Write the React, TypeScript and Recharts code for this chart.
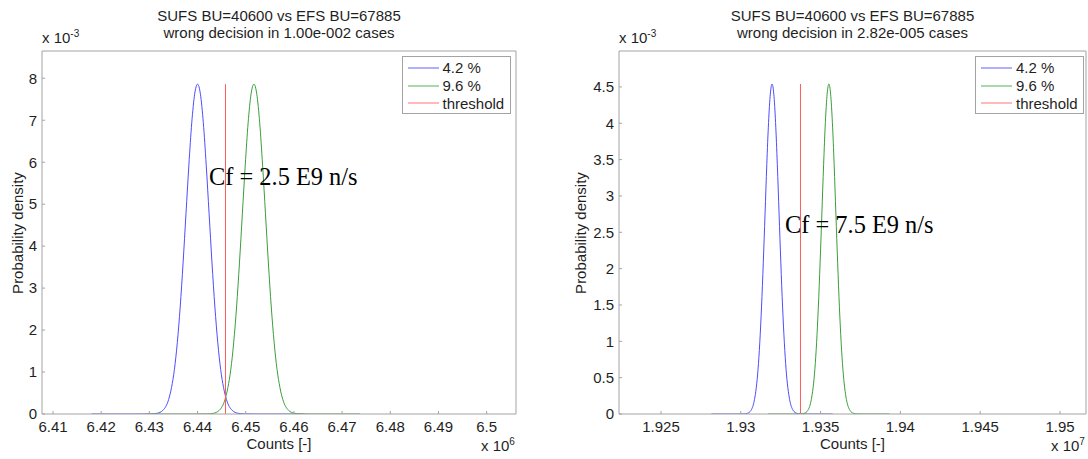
import React from 'react';
import { LineChart, Line, XAxis, YAxis, Legend } from 'recharts';

// ---------- Left panel (Cf = 2.5 E9 n/s), counts in units of 1e6 ----------
const leftBlueCounts = [
  6.418, 6.428, 6.4304, 6.4316, 6.4328, 6.434, 6.4346, 6.4352, 6.4358, 6.4364, 6.437, 6.4376, 6.4382, 6.4388, 6.4394,
  6.44, 6.4406, 6.4412, 6.4418, 6.4424, 6.443, 6.4436, 6.4442, 6.4448, 6.4454, 6.446, 6.4472, 6.4484, 6.4496, 6.452, 6.462,
];
const leftGreenCounts = [
  6.4297, 6.4397, 6.4421, 6.4433, 6.4445, 6.4457, 6.4463, 6.4469, 6.4475, 6.4481, 6.4487, 6.4493, 6.4499, 6.4505, 6.4511,
  6.4517, 6.4523, 6.4529, 6.4535, 6.4541, 6.4547, 6.4553, 6.4559, 6.4565, 6.4571, 6.4577, 6.4589, 6.4601, 6.4613, 6.4637, 6.4737,
];
const leftDensity = [
  0, 0, 0.003, 0.017, 0.087, 0.345, 0.63, 1.06, 1.7, 2.55, 3.6, 4.77, 5.93, 6.94, 7.62,
  7.86, 7.62, 6.94, 5.93, 4.77, 3.6, 2.55, 1.7, 1.06, 0.63, 0.345, 0.087, 0.017, 0.003, 0, 0,
];
const leftThresholdCounts = [6.4458, 6.4458];
const leftThresholdDensity = [0, 7.86];
const leftXTicks = [6.41, 6.42, 6.43, 6.44, 6.45, 6.46, 6.47, 6.48, 6.49, 6.5];
const leftYTicks = [0, 1, 2, 3, 4, 5, 6, 7, 8];

// ---------- Right panel (Cf = 7.5 E9 n/s), counts in units of 1e7 ----------
const rightBlueCounts = [
  1.92816, 1.92976, 1.9302, 1.93042, 1.93064, 1.93086, 1.93097, 1.93108, 1.93119, 1.9313, 1.93141, 1.93152, 1.93163, 1.93174, 1.93185,
  1.93196, 1.93207, 1.93218, 1.93229, 1.9324, 1.93251, 1.93262, 1.93273, 1.93284, 1.93295, 1.93306, 1.93328, 1.9335, 1.93372, 1.93416, 1.93576,
];
const rightGreenCounts = [
  1.93172, 1.93332, 1.93376, 1.93398, 1.9342, 1.93442, 1.93453, 1.93464, 1.93475, 1.93486, 1.93497, 1.93508, 1.93519, 1.9353, 1.93541,
  1.93552, 1.93563, 1.93574, 1.93585, 1.93596, 1.93607, 1.93618, 1.93629, 1.9364, 1.93651, 1.93662, 1.93684, 1.93706, 1.93728, 1.93772, 1.93932,
];
const rightDensity = [
  0, 0, 0.0015, 0.01, 0.05, 0.2, 0.36, 0.61, 0.98, 1.47, 2.08, 2.75, 3.43, 4.01, 4.4,
  4.54, 4.4, 4.01, 3.43, 2.75, 2.08, 1.47, 0.98, 0.61, 0.36, 0.2, 0.05, 0.01, 0.0015, 0, 0,
];
const rightThresholdCounts = [1.93374, 1.93374];
const rightThresholdDensity = [0, 4.54];
const rightXTicks = [1.925, 1.93, 1.935, 1.94, 1.945, 1.95];
const rightYTicks = [0, 0.5, 1, 1.5, 2, 2.5, 3, 3.5, 4, 4.5];

const legendLabels = ['4.2 %', '9.6 %', 'threshold'];
const seriesColors = ['#4d4dff', '#3a9e3a', '#ff5a5a'];
const legendSwatchColors = ['#7a7aff', '#70c070', '#ff8a8a'];

const FONT = '"Liberation Sans", Arial, Helvetica, sans-serif';
const SERIF = '"Liberation Serif", "Times New Roman", serif';
const TEXT = '#1f1f1f';
const AXIS = '#a3a3a3';

type Pt = { x: number; y: number };
const zip = (xs: number[], ys: number[]): Pt[] => xs.map((x, i) => ({ x, y: ys[i] }));

type PanelProps = {
  offsetX: number;
  yAxisWidth: number;
  marginRight: number;
  xDomain: [number, number];
  xTicks: number[];
  yDomain: [number, number];
  yTicks: number[];
  blue: Pt[];
  green: Pt[];
  threshold: Pt[];
  title2: string;
  annotation: string;
  annLeft: number;
  annTop: number;
  annSize: number;
  xExp: string;
  yLabelX: number;
  legendLeft: number;
};

const W = 544;
const H = 459;
const TOP = 50;
const XAXIS_H = 45;

function Panel(p: PanelProps) {
  const plotLeft = p.yAxisWidth;
  const plotRight = W - p.marginRight - 1;
  const plotW = plotRight - plotLeft;
  const plotTop = TOP + 1;
  const plotBottom = H - XAXIS_H;
  const cy = (plotTop + plotBottom) / 2;

  const renderLegend = () => (
    <div
      style={{
        boxSizing: 'border-box',
        width: 109,
        height: 58,
        border: `1px solid ${AXIS}`,
        background: '#fff',
        paddingTop: 2,
        fontFamily: FONT,
        fontSize: 15,
        color: TEXT,
      }}
    >
      {legendLabels.map((label, i) => (
        <div key={i} style={{ display: 'flex', alignItems: 'center', height: 17.7 }}>
          <svg width={36} height={4} style={{ display: 'block', flex: '0 0 36px' }}>
            <line x1={5} y1={2} x2={36} y2={2} stroke={legendSwatchColors[i]} strokeWidth={1.2} />
          </svg>
          <span style={{ marginLeft: 4, lineHeight: '17px' }}>{label}</span>
        </div>
      ))}
    </div>
  );

  return (
    <div style={{ position: 'absolute', left: p.offsetX, top: 0, width: W, height: H }}>
      <LineChart width={W} height={H} margin={{ top: TOP, right: p.marginRight, bottom: 0, left: 0 }}>
        <XAxis
          xAxisId="b"
          dataKey="x"
          type="number"
          domain={p.xDomain}
          ticks={p.xTicks}
          allowDataOverflow
          interval={0}
          height={XAXIS_H}
          tickSize={-3}
          tickMargin={10}
          stroke={AXIS}
          tick={{ fill: TEXT, fontSize: 15, fontFamily: FONT }}
          tickFormatter={(v: number) => String(v)}
        />
        <XAxis
          xAxisId="t"
          orientation="top"
          dataKey="x"
          type="number"
          domain={p.xDomain}
          ticks={p.xTicks}
          allowDataOverflow
          interval={0}
          height={1}
          tickSize={-3}
          tick={false}
          stroke={AXIS}
        />
        <YAxis
          yAxisId="l"
          type="number"
          domain={p.yDomain}
          ticks={p.yTicks}
          allowDataOverflow
          interval={0}
          width={p.yAxisWidth}
          tickSize={-3}
          tickMargin={8}
          stroke={AXIS}
          tick={{ fill: TEXT, fontSize: 15, fontFamily: FONT }}
          tickFormatter={(v: number) => String(v)}
        />
        <YAxis
          yAxisId="r"
          orientation="right"
          type="number"
          domain={p.yDomain}
          ticks={p.yTicks}
          allowDataOverflow
          interval={0}
          width={1}
          tickSize={-3}
          tick={false}
          stroke={AXIS}
        />
        <Legend
          layout="vertical"
          align="center"
          verticalAlign="middle"
          wrapperStyle={{ left: p.legendLeft, top: 56, width: 109, height: 58 }}
          content={renderLegend}
        />
        <Line
          xAxisId="b"
          yAxisId="l"
          data={p.blue}
          dataKey="y"
          name={legendLabels[0]}
          type="monotone"
          stroke={seriesColors[0]}
          strokeWidth={1}
          dot={false}
          activeDot={false}
          isAnimationActive={false}
        />
        <Line
          xAxisId="b"
          yAxisId="l"
          data={p.green}
          dataKey="y"
          name={legendLabels[1]}
          type="monotone"
          stroke={seriesColors[1]}
          strokeWidth={1}
          dot={false}
          activeDot={false}
          isAnimationActive={false}
        />
        <Line
          xAxisId="b"
          yAxisId="l"
          data={p.threshold}
          dataKey="y"
          name={legendLabels[2]}
          type="linear"
          stroke={seriesColors[2]}
          strokeWidth={1}
          dot={false}
          activeDot={false}
          isAnimationActive={false}
        />
      </LineChart>

      {/* title */}
      <div
        style={{
          position: 'absolute',
          left: plotLeft - 60,
          width: plotW + 120,
          top: 8,
          textAlign: 'center',
          fontFamily: FONT,
          fontSize: 15,
          lineHeight: '16.6px',
          color: TEXT,
          whiteSpace: 'nowrap',
        }}
      >
        <div>SUFS BU=40600 vs EFS BU=67885</div>
        <div>{p.title2}</div>
      </div>

      {/* y exponent */}
      <div
        style={{
          position: 'absolute',
          left: plotLeft,
          top: 29,
          fontFamily: FONT,
          fontSize: 15,
          lineHeight: '18px',
          color: TEXT,
          whiteSpace: 'nowrap',
        }}
      >
        x 10<sup style={{ fontSize: 10, verticalAlign: 'top', position: 'relative', top: -4 }}>-3</sup>
      </div>

      {/* x exponent */}
      <div
        style={{
          position: 'absolute',
          left: plotRight - 35,
          top: 437,
          fontFamily: FONT,
          fontSize: 15,
          lineHeight: '18px',
          color: TEXT,
          whiteSpace: 'nowrap',
        }}
      >
        x 10<sup style={{ fontSize: 10, verticalAlign: 'top', position: 'relative', top: -4 }}>{p.xExp}</sup>
      </div>

      {/* x label */}
      <div
        style={{
          position: 'absolute',
          left: plotLeft,
          width: plotW,
          top: 435,
          textAlign: 'center',
          fontFamily: FONT,
          fontSize: 15,
          lineHeight: '18px',
          color: TEXT,
        }}
      >
        Counts [-]
      </div>

      {/* y label */}
      <div
        style={{
          position: 'absolute',
          left: p.yLabelX - 100,
          top: cy - 9,
          width: 200,
          height: 18,
          textAlign: 'center',
          fontFamily: FONT,
          fontSize: 15,
          lineHeight: '18px',
          color: TEXT,
          transform: 'rotate(-90deg)',
          whiteSpace: 'nowrap',
        }}
      >
        Probability density
      </div>

      {/* annotation */}
      <div
        style={{
          position: 'absolute',
          left: p.annLeft,
          top: p.annTop,
          fontFamily: SERIF,
          fontSize: p.annSize,
          lineHeight: 1,
          color: '#000',
          whiteSpace: 'nowrap',
        }}
      >
        {p.annotation}
      </div>
    </div>
  );
}

export default function App() {
  return (
    <div
      style={{
        position: 'absolute',
        left: 0,
        top: 0,
        width: 1088,
        height: 459,
        overflow: 'hidden',
        background: '#fff',
      }}
    >
      <Panel
        offsetX={0}
        yAxisWidth={42}
        marginRight={27}
        xDomain={[6.40772, 6.50609]}
        xTicks={leftXTicks}
        yDomain={[0, 8.65]}
        yTicks={leftYTicks}
        blue={zip(leftBlueCounts, leftDensity)}
        green={zip(leftGreenCounts, leftDensity)}
        threshold={zip(leftThresholdCounts, leftThresholdDensity)}
        title2="wrong decision in 1.00e-002 cases"
        annotation="Cf = 2.5 E9 n/s"
        annLeft={209}
        annTop={164.5}
        annSize={24.4}
        xExp="6"
        yLabelX={18}
        legendLeft={401.5}
      />
      <Panel
        offsetX={544}
        yAxisWidth={75}
        marginRight={1}
        xDomain={[1.92237, 1.95163]}
        xTicks={rightXTicks}
        yDomain={[0, 4.994]}
        yTicks={rightYTicks}
        blue={zip(rightBlueCounts, rightDensity)}
        green={zip(rightGreenCounts, rightDensity)}
        threshold={zip(rightThresholdCounts, rightThresholdDensity)}
        title2="wrong decision in 2.82e-005 cases"
        annotation="Cf = 7.5 E9 n/s"
        annLeft={241}
        annTop={212.5}
        annSize={24.4}
        xExp="7"
        yLabelX={36.5}
        legendLeft={431}
      />
    </div>
  );
}
